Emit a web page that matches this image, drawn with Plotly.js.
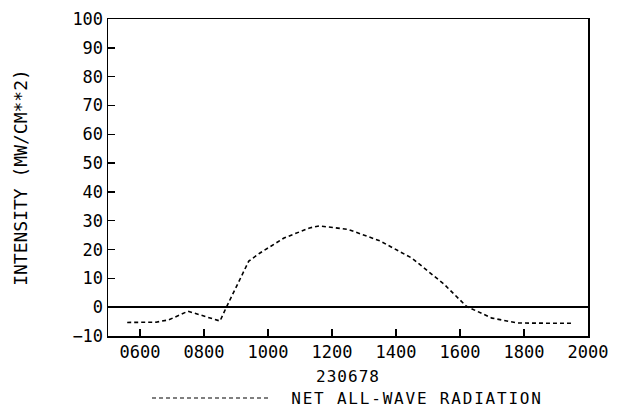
<!DOCTYPE html>
<html>
<head>
<meta charset="utf-8">
<script src="https://cdn.plot.ly/plotly-3.0.1.min.js"></script>
<style>
html,body{margin:0;padding:0;background:#fff;}
#chart{width:620px;height:412px;}
#chart .xtitle{letter-spacing:1px;}
#chart .annotation-text{letter-spacing:1.8px;}
</style>
</head>
<body>
<div id="chart"></div>
<script>
// Time of day (hhmm) and net all-wave radiation intensity (mW/cm**2), 23 June 1978
const timeHHMM = [560, 650, 690, 750, 850, 870, 940, 975, 1050, 1130, 1160, 1250, 1350, 1450, 1550, 1620, 1700, 1780, 1950];
const netRadiation = [-5.3, -5.2, -4.4, -1.4, -4.8, 0, 16, 18.8, 24, 27.5, 28.2, 27, 23, 17, 8, 0.3, -3.8, -5.5, -5.6];
const xTickVals = [600, 800, 1000, 1200, 1400, 1600, 1800, 2000];
const xTickText = ["0600", "0800", "1000", "1200", "1400", "1600", "1800", "2000"];
const yTickVals = [-10, 0, 10, 20, 30, 40, 50, 60, 70, 80, 90, 100];
const seriesName = "NET ALL-WAVE RADIATION";
const dateLabel = "230678";
const yTitle = "INTENSITY (MW/CM**2)";

const font = "DejaVu Sans Mono, monospace";

const trace = {
  x: timeHHMM, y: netRadiation, type: "scatter", mode: "lines",
  name: seriesName, showlegend: false,
  line: {color: "#000", width: 1.6, dash: "4px,3px"}
};

const layout = {
  width: 620, height: 412,
  margin: {l: 108, r: 32, t: 19, b: 76},
  paper_bgcolor: "#fff", plot_bgcolor: "#fff",
  font: {family: font, color: "#000", size: 17},
  xaxis: {
    range: [500, 2000], tickmode: "array", tickvals: xTickVals, ticktext: xTickText,
    ticks: "inside", ticklen: 7, tickcolor: "#000", tickwidth: 1.5,
    showgrid: false, zeroline: false, showline: true, linecolor: "#000", linewidth: 1.5, mirror: true,
    tickfont: {family: font, size: 17},
    title: {text: dateLabel, font: {family: font, size: 16}, standoff: 10}
  },
  yaxis: {
    range: [-10, 100], tickmode: "array", tickvals: yTickVals,
    ticks: "inside", ticklen: 7, tickcolor: "#000", tickwidth: 1.5,
    showgrid: false, zeroline: true, zerolinecolor: "#000", zerolinewidth: 1.5,
    showline: true, linecolor: "#000", linewidth: 1.5, mirror: true,
    tickfont: {family: font, size: 17},
    title: {text: yTitle, font: {family: font, size: 18}, standoff: 40}
  },
  shapes: [{
    type: "line", xref: "paper", yref: "paper",
    x0: (152 - 108) / 480, x1: (268 - 108) / 480,
    y0: -(398 - 336) / 317, y1: -(398 - 336) / 317,
    line: {color: "#000", width: 1.2, dash: "4px,3px"}
  }],
  annotations: [{
    text: seriesName, xref: "paper", yref: "paper",
    x: (309 - 108) / 480, y: -(398 - 336) / 317, xanchor: "left", yanchor: "middle",
    showarrow: false, font: {family: font, size: 16, color: "#000"}
  }]
};

Plotly.newPlot("chart", [trace], layout, {displayModeBar: false, staticPlot: true});
</script>
</body>
</html>
